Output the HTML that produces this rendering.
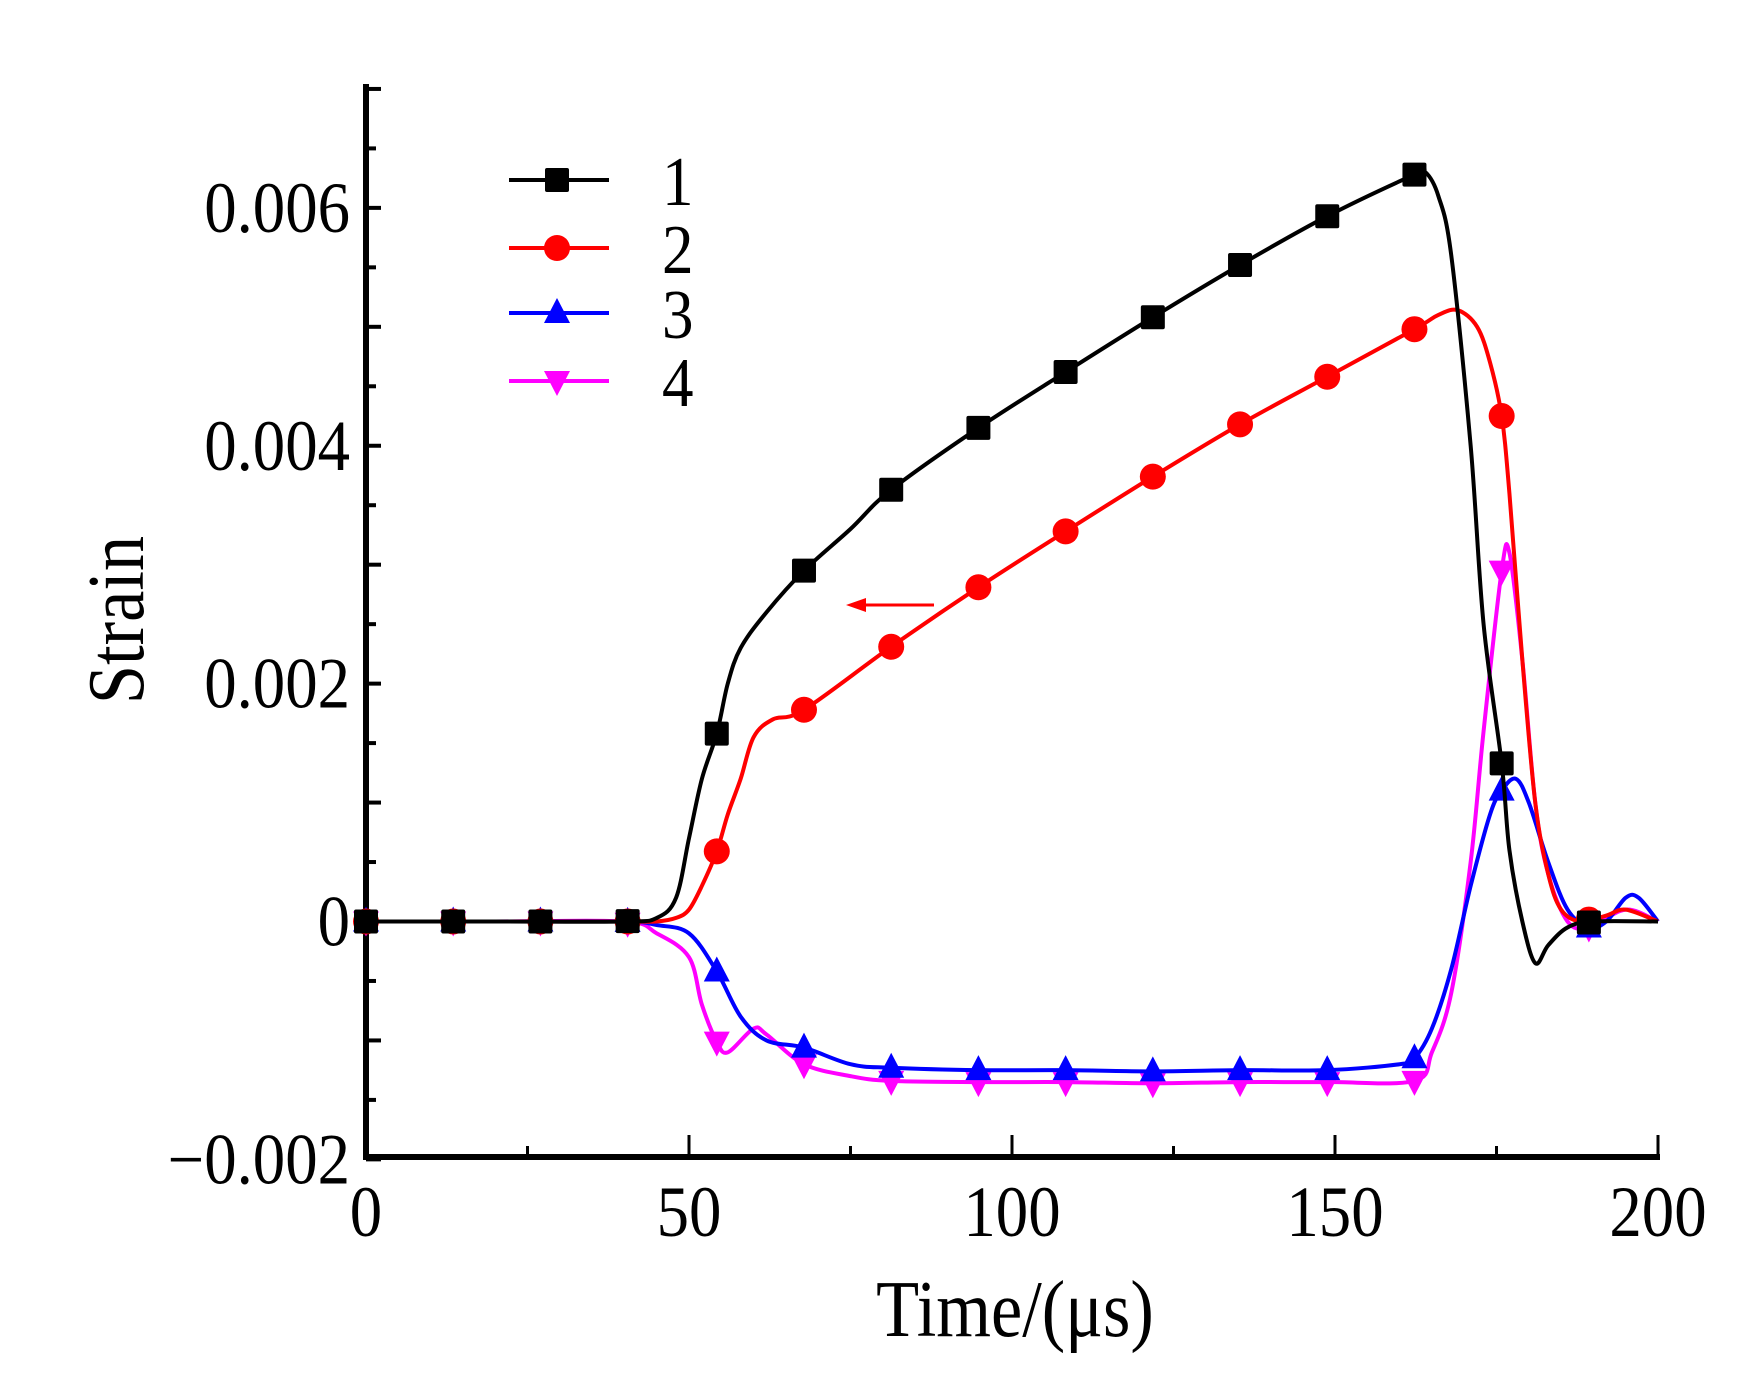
<!DOCTYPE html>
<html><head><meta charset="utf-8"><style>
html,body{margin:0;padding:0;background:#fff;}
svg{display:block;}
text{font-family:"Liberation Serif",serif;fill:#000;}
</style></head><body>
<svg id="chart" width="1759" height="1386" viewBox="0 0 1759 1386" xmlns="http://www.w3.org/2000/svg"></svg>
<script>
const seriesNames=["1","2","3","4"];
const seriesColors=["#000000","#ff0000","#0000ff","#ff00ff"];
const seriesMarkers=["square","circle","triangle","tridown"];
const markerTimes=[0,13.5,27,40.5,54.3,67.8,81.3,94.8,108.3,121.8,135.3,148.8,162.3,175.8,189.3];
const s1t=[0,20,40,45,48,50,52,54.3,56,58,62,67.8,75,81.3,94.8,108.3,121.8,135.3,148.8,162.3,164,166,168,171,173,175.8,177,179,181,183,186,190,200];
const s1v=[0,0,0,0.00003,0.0002,0.0007,0.0012,0.00158,0.0020,0.0023,0.0026,0.00295,0.0033,0.00363,0.00415,0.00462,0.00508,0.00552,0.00593,0.00628,0.0063,0.0061,0.0056,0.0040,0.0025,0.00133,0.0006,0.0000,-0.00035,-0.0002,-0.00005,0,0];
const s2t=[0,20,40,45,48,50,52,54.3,56,58,60,63,67.8,81.3,94.8,108.3,121.8,135.3,148.8,162.3,166,169,172,174,175.8,177,179,181,183,185,188,192,195,200];
const s2v=[0,0,0,0,0.00003,0.0001,0.0003,0.00059,0.0009,0.0012,0.00155,0.0017,0.00178,0.00231,0.00281,0.00328,0.00374,0.00418,0.00458,0.00498,0.0051,0.00514,0.0050,0.0047,0.00425,0.0036,0.0022,0.0010,0.0004,0.0001,0,0.00005,0.0001,0];
const s3t=[0,20,40,45,50,54.3,58,62,67.8,75,81.3,94.8,108.3,121.8,135.3,148.8,160,162.3,165,168,171,174,175.8,178,180,183,186,189.3,192,195,197,200];
const s3v=[0,0,0,-0.00003,-0.0001,-0.00042,-0.0008,-0.0010,-0.00106,-0.0012,-0.00123,-0.00125,-0.00125,-0.00126,-0.00125,-0.00125,-0.0012,-0.00115,-0.0009,-0.0004,0.0003,0.0009,0.0011,0.0012,0.0010,0.0005,0.0001,-0.00005,0.0000,0.0002,0.0002,0];
const s4t=[0,20,40,45,50,52,54.3,56,60,62,67.8,75,81.3,94.8,108.3,121.8,135.3,148.8,162.3,165,168,171,173,175.8,177,179,181,183,186,189.3,195,200];
const s4v=[0,0,0,-0.0001,-0.0003,-0.0007,-0.00101,-0.0011,-0.0009,-0.00095,-0.0012,-0.0013,-0.00134,-0.00135,-0.00135,-0.00136,-0.00135,-0.00135,-0.00134,-0.0011,-0.0006,0.0005,0.0016,0.00295,0.0031,0.0022,0.0010,0.0004,0.0000,-0.00005,0.0001,0];
const xTickVals=[0,50,100,150,200];
const xTickLabels=["0","50","100","150","200"];
const yTickVals=[-0.002,0,0.002,0.004,0.006];
const yTickLabels=["\u22120.002","0","0.002","0.004","0.006"];

const NS="http://www.w3.org/2000/svg";
const svg=document.getElementById('chart');
const X0=366,X1=1658,Y0=921.5,YPER=118937;
function xs(t){return X0+(t-0)/(200-0)*(X1-X0);}
function ys(v){return Y0-v*YPER;}
function mk(tag,attrs,parent){const e=document.createElementNS(NS,tag);for(const k in attrs)e.setAttribute(k,attrs[k]);(parent||svg).appendChild(e);return e;}
function interp(ts,vs,t){for(let i=0;i<ts.length-1;i++){if(t>=ts[i]&&t<=ts[i+1]){const f=(t-ts[i])/(ts[i+1]-ts[i]);return vs[i]+f*(vs[i+1]-vs[i]);}}return vs[vs.length-1];}
function smoothPath(ts,vs){
  const p=ts.map((t,i)=>[xs(t),ys(vs[i])]);
  let d=`M${p[0][0]},${p[0][1]}`;
  for(let i=0;i<p.length-1;i++){
    const p0=p[Math.max(0,i-1)],p1=p[i],p2=p[i+1],p3=p[Math.min(p.length-1,i+2)];
    const c1=[p1[0]+(p2[0]-p0[0])/6,p1[1]+(p2[1]-p0[1])/6];
    const c2=[p2[0]-(p3[0]-p1[0])/6,p2[1]-(p3[1]-p1[1])/6];
    d+=` C${c1[0]},${c1[1]} ${c2[0]},${c2[1]} ${p2[0]},${p2[1]}`;
  }
  return d;
}
function marker(type,cx,cy,color,g){
  let e;
  if(type==="square"){e=mk('rect',{x:cx-12,y:cy-12,width:24,height:24,rx:2,fill:color},g);}
  else if(type==="circle"){e=mk('circle',{cx:cx,cy:cy,r:13,fill:color},g);}
  else if(type==="triangle"){e=mk('polygon',{points:`${cx},${cy-15} ${cx+13},${cy+10} ${cx-13},${cy+10}`,fill:color},g);}
  else {e=mk('polygon',{points:`${cx},${cy+15} ${cx+13},${cy-10} ${cx-13},${cy-10}`,fill:color},g);}
  return e;
}

const axes=mk('g',{});


const yAxisLine=mk('line',{x1:X0,y1:84,x2:X0,y2:1160,stroke:'#000','stroke-width':6},axes);


const xAxisLine=mk('line',{x1:X0-3,y1:1157,x2:X1+2,y2:1157,stroke:'#000','stroke-width':6},axes);


for(let v=-0.002;v<=0.00701;v+=0.0005){
  const major=Math.abs(Math.round(v/0.001)*0.001-v)<1e-9;
  const yy=ys(v);
  const tk=mk('line',{x1:X0,y1:yy,x2:X0+(major?15:10),y2:yy,stroke:'#000','stroke-width':4},axes);
  
  
}
for(let t=25;t<=200;t+=25){
  const major=t%50===0;
  const tk=mk('line',{x1:xs(t),y1:1157,x2:xs(t),y2:1157-(major?22:11),stroke:'#000','stroke-width':3},axes);
  
  
}
yTickVals.forEach((v,i)=>{
  const tx=mk('text',{x:0,y:0,'font-size':72,'text-anchor':'end',transform:`translate(${X0-16},${ys(v)+24}) scale(0.9,1)`},axes);
  tx.textContent=yTickLabels[i];
  
  
});
xTickVals.forEach((v,i)=>{
  const tx=mk('text',{x:0,y:0,'font-size':72,'text-anchor':'middle',transform:`translate(${xs(v)},${1236}) scale(0.9,1)`},axes);
  tx.textContent=xTickLabels[i];
  
  
});
const xt=mk('text',{x:0,y:0,'font-size':80,'text-anchor':'middle',transform:`translate(1015,1336) scale(0.88,1)`});
xt.textContent="Time/(\u03bcs)";


const yt=mk('text',{x:0,y:0,'font-size':80,'text-anchor':'middle',transform:`translate(143,620) rotate(-90) scale(0.88,1)`});
yt.textContent="Strain";



const allT=[s1t,s2t,s3t,s4t],allV=[s1v,s2v,s3v,s4v];
const order=[3,2,1,0];
order.forEach(i=>{
  const g=mk('g',{});
  
  
  const path=mk('path',{d:smoothPath(allT[i],allV[i]),fill:'none',stroke:seriesColors[i],'stroke-width':4},g);
  
  
  markerTimes.forEach(t=>{
    const m=marker(seriesMarkers[i],xs(t),ys(interp(allT[i],allV[i],t)),seriesColors[i],g);
    
    
  });
});

const arrow=mk('g',{});


mk('line',{x1:934,y1:605,x2:856,y2:605,stroke:'#ff0000','stroke-width':3},arrow);
mk('polygon',{points:'846,605 866,598 866,612',fill:'#ff0000'},arrow);

const leg=mk('g',{});


const legY=[180,248,313,381];
seriesNames.forEach((n,i)=>{
  const e=mk('g',{},leg);
  
  
  mk('line',{x1:509,y1:legY[i],x2:609,y2:legY[i],stroke:seriesColors[i],'stroke-width':4},e);
  marker(seriesMarkers[i],557,legY[i],seriesColors[i],e);
  const t=mk('text',{x:0,y:0,'font-size':70,transform:`translate(662,${legY[i]+25}) scale(0.9,1)`},e);
  t.textContent=n;
});
</script>
</body></html>
